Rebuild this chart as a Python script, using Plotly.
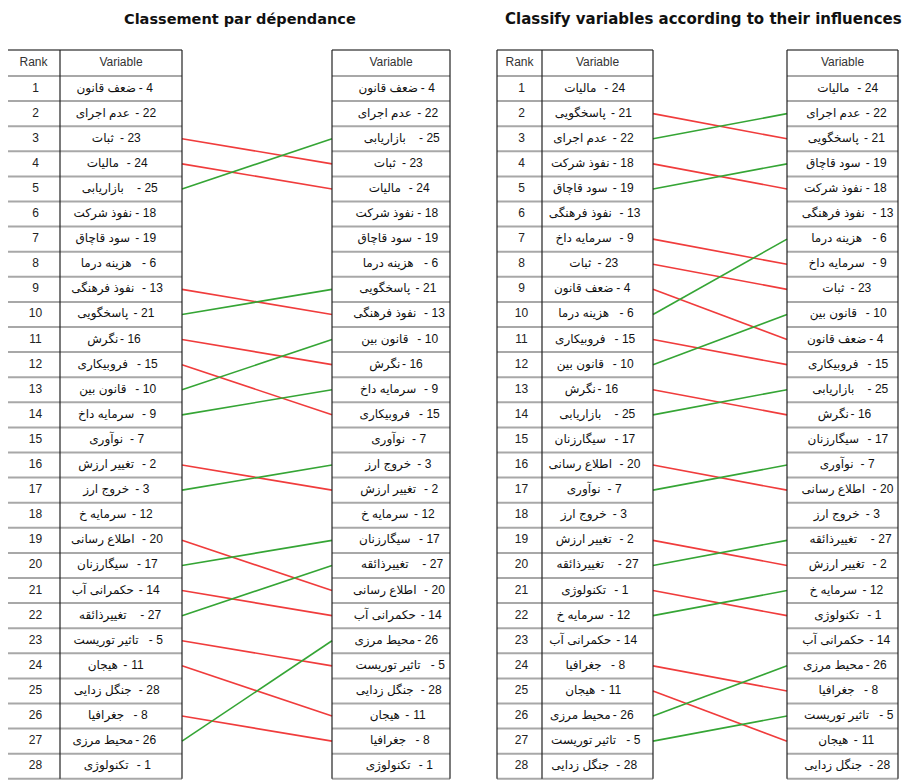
import plotly.graph_objects as go

# ---------------- data ----------------
var_names = ["تکنولوژی", "تغییر ارزش", "خروج ارز", "ضعف قانون", "تاثیر توریست",
             "هزینه درما", "نوآوری", "جغرافیا", "سرمایه داخ", "قانون بین",
             "هیجان", "سرمایه خ", "نفوذ فرهنگی", "حکمرانی آب", "فروبیکاری",
             "نگرش", "سیگارزنان", "نفوذ شرکت", "سود قاچاق", "اطلاع رسانی",
             "پاسخگویی", "عدم اجرای", "ثبات", "مالیات", "بازاریابی",
             "محیط مرزی", "تغییرذائقه", "جنگل زدایی"]

ranks = list(range(1, 29))
dep_direct = [4, 22, 23, 24, 25, 18, 19, 6, 13, 21, 16, 15, 10, 9, 7, 2, 3, 12, 20, 17, 14, 27, 5, 11, 28, 8, 26, 1]
dep_indirect = [4, 22, 25, 23, 24, 18, 19, 6, 21, 13, 10, 16, 9, 15, 7, 3, 2, 12, 17, 27, 20, 14, 26, 5, 28, 11, 8, 1]
inf_direct = [24, 21, 22, 18, 19, 13, 9, 23, 4, 6, 15, 10, 16, 25, 17, 20, 7, 3, 2, 27, 1, 12, 14, 8, 11, 26, 5, 28]
inf_indirect = [24, 22, 21, 19, 18, 13, 6, 9, 23, 10, 4, 15, 25, 16, 17, 7, 20, 3, 27, 2, 12, 1, 14, 26, 8, 5, 11, 28]

titles = ["Classement par dépendance", "Classify variables according to their influences"]
header_rank = "Rank"
header_var = "Variable"

# ---------------- geometry (page pixels) ----------------
TOP, HEAD_B, PITCH = 50, 76, 25.1
N = len(ranks)
BOTTOM = HEAD_B + N * PITCH

panels = [
    dict(direct=dep_direct, indirect=dep_indirect, rank=(7, 60), var=(60, 182), right=(332, 450),
         tx=122, tsize=14.5, off=(-6, 6)),
    dict(direct=inf_direct, indirect=inf_indirect, rank=(497, 542), var=(542, 653), right=(787, 898),
         tx=503, tsize=15, off=(-5, 3)),
]

FONT = "Liberation Sans, Arial, DejaVu Sans, sans-serif"
TFONT = "DejaVu Sans, sans-serif"
RED = "#f03c3c"
GREEN = "#35a535"
GAP, HW = 3.5, 4.0


def yc(r):
    return HEAD_B + (r - 0.5) * PITCH


def name_w(v):
    s = var_names[v - 1]
    return sum(3.6 if ch == " " else 6.8 for ch in s)


def num_w(v):
    return 6.7 * len(str(v))


fig = go.Figure()
shapes = []
annotations = []


def add_labels(xc, values):
    nx, hx, dx = [], [], []
    for v in values:
        nw, dw = name_w(v), num_w(v)
        left = xc - (nw + 2 * GAP + HW + dw) / 2
        nx.append(left + nw / 2)
        hx.append(left + nw + GAP + HW / 2)
        dx.append(left + nw + 2 * GAP + HW + dw / 2)
    ys = [yc(r) for r in ranks]
    common = dict(mode="text", textposition="middle center", hoverinfo="skip", showlegend=False)
    fig.add_trace(go.Scatter(x=nx, y=ys, text=[var_names[v - 1] for v in values],
                             textfont=dict(family=FONT, size=12, color="#111"), **common))
    fig.add_trace(go.Scatter(x=hx, y=ys, text=["-"] * len(values),
                             textfont=dict(family=FONT, size=12, color="#111"), **common))
    fig.add_trace(go.Scatter(x=dx, y=ys, text=[str(v) for v in values],
                             textfont=dict(family=FONT, size=12, color="#111"), **common))


for idx, p in enumerate(panels):
    # table grids
    for (x0, x1) in [(p["rank"][0], p["var"][1]), p["right"]]:
        shapes.append(dict(type="line", x0=x0, x1=x1, y0=TOP, y1=TOP, line=dict(color="#555", width=1.5)))
        for i in range(N + 1):
            y = HEAD_B + i * PITCH
            shapes.append(dict(type="line", x0=x0, x1=x1, y0=y, y1=y, line=dict(color="#a8a8a8", width=2)))
    verticals = [p["rank"][0], p["rank"][1], p["var"][1], p["right"][0], p["right"][1]]
    for x in verticals:
        shapes.append(dict(type="line", x0=x, x1=x, y0=TOP, y1=BOTTOM, line=dict(color="#222", width=1.2)))

    # headers
    hy = (TOP + HEAD_B) / 2
    fig.add_trace(go.Scatter(
        x=[sum(p["rank"]) / 2, sum(p["var"]) / 2, sum(p["right"]) / 2], y=[hy] * 3,
        text=[header_rank, header_var, header_var], mode="text",
        textfont=dict(family=FONT, size=12, color="#333"), hoverinfo="skip", showlegend=False))

    # rank numbers
    fig.add_trace(go.Scatter(
        x=[sum(p["rank"]) / 2 + 2] * N, y=[yc(r) for r in ranks], text=[str(r) for r in ranks],
        mode="text", textfont=dict(family=FONT, size=12, color="#222"), hoverinfo="skip", showlegend=False))

    add_labels(sum(p["var"]) / 2 + p["off"][0], p["direct"])
    add_labels(sum(p["right"]) / 2 + p["off"][1], p["indirect"])

    # connecting lines
    pos_ind = {v: i + 1 for i, v in enumerate(p["indirect"])}
    xs = {"r": [], "g": []}
    ys = {"r": [], "g": []}
    for i, v in enumerate(p["direct"]):
        r0, r1 = i + 1, pos_ind[v]
        if r0 == r1:
            continue
        k = "r" if r1 > r0 else "g"
        xs[k] += [p["var"][1], p["right"][0], None]
        ys[k] += [yc(r0), yc(r1), None]
    for k, c in (("r", RED), ("g", GREEN)):
        fig.add_trace(go.Scatter(x=xs[k], y=ys[k], mode="lines", line=dict(color=c, width=1.6),
                                 hoverinfo="skip", showlegend=False))

    annotations.append(dict(x=p["tx"], y=19, xref="x", yref="y", xanchor="left",
                            text="<b>%s</b>" % titles[idx],
                            showarrow=False, font=dict(family=TFONT, size=p["tsize"], color="#111")))

# the page has an 8px body margin, so the axes are offset to keep page-pixel coordinates
fig.update_layout(
    width=912, height=780, margin=dict(l=0, r=0, t=0, b=0),
    paper_bgcolor="white", plot_bgcolor="white",
    xaxis=dict(range=[8, 920], visible=False, fixedrange=True),
    yaxis=dict(range=[788, 8], visible=False, fixedrange=True),
    shapes=shapes, annotations=annotations,
)

fig.write_html("out.html")
